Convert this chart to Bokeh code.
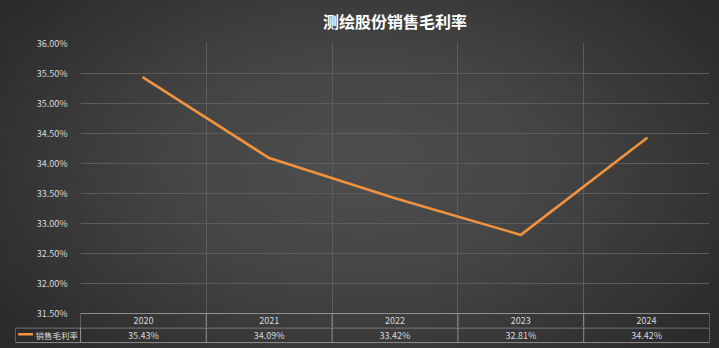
from bokeh.plotting import figure
from bokeh.layouts import column
from bokeh.models import Range1d, FixedTicker, PrintfTickFormatter, Grid, ColumnDataSource
from bokeh.core.properties import value
from bokeh.embed import file_html
from bokeh.resources import INLINE

title_text = "测绘股份销售毛利率"
years = ["2020", "2021", "2022", "2023", "2024"]
margin = [35.43, 34.09, 33.42, 32.81, 34.42]
series_name = "销售毛利率"
y_ticks = [31.5, 32.0, 32.5, 33.0, 33.5, 34.0, 34.5, 35.0, 35.5, 36.0]

FONT = "Noto Sans CJK SC"
LINE_COLOR = "#f0923e"
TEXT_COLOR = "#d9d9d9"
GRID_COLOR = "#5c5c5c"
TABLE_COLOR = "#909090"

n = len(years)
xc = [i + 0.5 for i in range(n)]
src = ColumnDataSource(dict(x=xc, y=margin, year=years,
                            label=["%.2f%%" % v for v in margin]))

# layout helpers (pixels -> data units)
PX_PER_UNIT = 60.0          # vertical pixels per 1 percentage point
HEADER_H = 14 / PX_PER_UNIT  # height of the year header row in data units
y_lo = y_ticks[0]
y_bottom = y_lo - HEADER_H

# ---------------- main chart (with year header row) ----------------
p = figure(width=719, height=327, output_backend="svg", toolbar_location=None,
           x_range=Range1d(0, n), y_range=Range1d(y_bottom, y_ticks[-1]),
           x_axis_location=None, min_border_left=80, min_border_right=10,
           min_border_top=43, min_border_bottom=0, frame_align=False)
p.background_fill_alpha = 0
p.border_fill_alpha = 0
p.outline_line_color = None

p.title.text = title_text
p.title.align = "center"
p.title.vertical_align = "top"
p.title.text_color = "#ffffff"
p.title.text_font = FONT
p.title.text_font_size = "16px"
p.title.text_font_style = "bold"
p.title.standoff = 17

p.yaxis.ticker = FixedTicker(ticks=y_ticks)
p.yaxis.formatter = PrintfTickFormatter(format="%.2f%%")
p.yaxis.axis_line_color = None
p.yaxis.major_tick_line_color = None
p.yaxis.minor_tick_line_color = None
p.yaxis.major_label_text_color = TEXT_COLOR
p.yaxis.major_label_text_font = FONT
p.yaxis.major_label_text_font_size = "9px"
p.yaxis.major_label_standoff = 7

p.ygrid.grid_line_color = GRID_COLOR
p.ygrid.ticker = FixedTicker(ticks=y_ticks)
p.add_layout(Grid(dimension=0, ticker=FixedTicker(ticks=list(range(n + 1))),
                  grid_line_color=GRID_COLOR))

p.line("x", "y", source=src, line_color=LINE_COLOR, line_width=2.6,
       line_cap="round", line_join="round")

# header row of the data table
p.segment(x0=[0], y0=[y_lo], x1=[n], y1=[y_lo], line_color=TABLE_COLOR, line_width=1)
p.segment(x0=list(range(n + 1)), y0=[y_bottom] * (n + 1), x1=list(range(n + 1)),
          y1=[y_lo] * (n + 1), line_color=TABLE_COLOR, line_width=1)
p.text(x="x", y=y_lo - HEADER_H / 2, text="year", source=src, text_align="center",
       text_baseline="middle", text_color=TEXT_COLOR, text_font=value(FONT),
       text_font_size="9px")

# ---------------- value row of the data table ----------------
left_ext = -65 / 125.8
t = figure(width=719, height=21, output_backend="svg", toolbar_location=None,
           x_range=Range1d(left_ext, n), y_range=Range1d(-0.06, 1.0),
           x_axis_location=None, y_axis_location=None,
           min_border_left=15, min_border_right=10, min_border_top=0,
           min_border_bottom=5, frame_align=False)
t.background_fill_alpha = 0
t.border_fill_alpha = 0
t.outline_line_color = None
t.grid.visible = False

t.segment(x0=[left_ext, left_ext], y0=[0.97, 0], x1=[n, n], y1=[0.97, 0],
          line_color=TABLE_COLOR, line_width=1)
vx = [left_ext] + list(range(n + 1))
t.segment(x0=vx, y0=[0] * len(vx), x1=vx, y1=[1] * len(vx),
          line_color=TABLE_COLOR, line_width=1)

t.text(x="x", y=0.5, text="label", source=src, text_align="center", text_baseline="middle",
       text_color=TEXT_COLOR, text_font=value(FONT), text_font_size="9px")

# legend key in the table
t.segment(x0=[left_ext + 0.02], y0=[0.55], x1=[left_ext + 0.14], y1=[0.55],
          line_color=LINE_COLOR, line_width=2.6)
t.text(x=[-0.02], y=[0.5], text=[series_name], text_align="right", text_baseline="middle",
       text_color=TEXT_COLOR, text_font=value(FONT), text_font_size="8.5px")

layout = column(p, t, spacing=0,
                styles={"background": "radial-gradient(ellipse 60% 75% at 50% 48%, #4e4e4e 0%, #444444 45%, #2b2b2b 100%)"})

open("out.html", "w").write(file_html(layout, INLINE))
